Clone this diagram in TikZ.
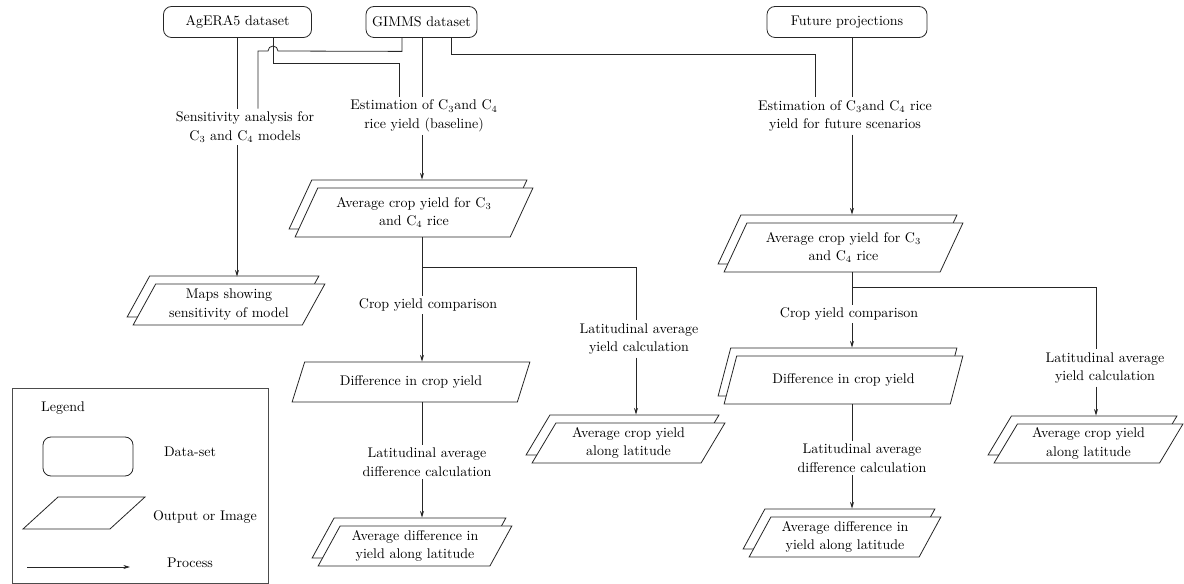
\documentclass[tikz,border=0pt]{standalone}
\usetikzlibrary{shapes.geometric,shadows,arrows.meta,calc}
\begin{document}
\begin{tikzpicture}[x=0.75pt,y=-0.75pt,
  every node/.style={font=\fontsize{10.5}{14}\selectfont},
  line/.style={draw=black!85, line width=0.6pt},
  arr/.style={line, -{Stealth[length=5pt,width=3pt]}},
  dataset/.style={draw=black!85, line width=0.6pt, rounded corners=6pt, align=center, inner sep=0pt, minimum height=23.25pt},
  lbl/.style={align=center, inner sep=2pt},
  para/.style={trapezium, trapezium left angle=61, trapezium right angle=119, trapezium stretches=true, draw=black!85, line width=0.6pt, fill=white, align=center, inner sep=1pt},
  dpara/.style={para, copy shadow={shadow xshift=-4.5pt, shadow yshift=6pt}},
]
\useasboundingbox (0,0) rectangle (1184,584);

% axes
\coordinate (xA1) at (237,0);
\coordinate (xA2) at (273,0);
\coordinate (xG1) at (402,0);
\coordinate (xB) at (422,0);
\coordinate (xG3) at (451,0);
\coordinate (xF) at (852,0);
\coordinate (xS) at (258,0);
\coordinate (xE1) at (399,0);
\coordinate (xE2) at (815,0);
\coordinate (xL) at (636,0);
\coordinate (xR) at (1096,0);
\coordinate (brB) at (422,267);
\coordinate (brF) at (852,287);

% datasets
\node[dataset, minimum width=111pt] (agera) at (237.5,22) {AgERA5 dataset};
\node[dataset, minimum width=83.25pt] (gimms) at (421.5,22) {GIMMS dataset};
\node[dataset, minimum width=120pt] (future) at (847,22) {Future projections};

% process labels
\node[lbl] (sens) at (245,127) {Sensitivity analysis for\\C$_3$ and C$_4$ models};
\node[lbl] (estb) at (424,116) {Estimation of C$_3$and C$_4$\\rice yield (baseline)};
\node[lbl] (estf) at (845,116) {Estimation of C$_3$and C$_4$ rice\\yield for future scenarios};
\node[lbl] (cycb) at (428,305) {Crop yield comparison};
\node[lbl] (latb) at (639,339) {Latitudinal average\\yield calculation};
\node[lbl] (ladb) at (427,462) {Latitudinal average\\difference calculation};
\node[lbl] (cycf) at (849,314) {Crop yield comparison};
\node[lbl] (ladf) at (862,458) {Latitudinal average\\difference calculation};
\node[lbl] (latf) at (1105,368) {Latitudinal average\\yield calculation};

% outputs
\node[dpara, minimum width=178.5pt, minimum height=36.75pt] (avgb) at (414,212.5) {Average crop yield for C$_3$\\and C$_4$ rice};
\node[dpara, minimum width=144pt, minimum height=30.75pt] (maps) at (229,304.5) {Maps showing\\sensitivity of model};
\node[para, minimum width=178.5pt, minimum height=30pt] (diffb) at (411,382) {Difference in crop yield};
\node[dpara, minimum width=145.5pt, minimum height=30pt] (avgdiffb) at (415,546) {Average difference in\\yield along latitude};
\node[dpara, minimum width=144.75pt, minimum height=30pt] (avglatb) at (628.5,443) {Average crop yield\\along latitude};
\node[dpara, minimum width=179.25pt, minimum height=36.75pt] (avgf) at (843.5,247.5) {Average crop yield for C$_3$\\and C$_4$ rice};
\node[dpara, minimum width=179.25pt, minimum height=36pt] (difff) at (843.5,380) {Difference in crop yield};
\node[dpara, minimum width=144pt, minimum height=30pt] (avgdifff) at (845,537) {Average difference in\\yield along latitude};
\node[dpara, minimum width=141.75pt, minimum height=29.25pt] (avglatf) at (1088.5,443.5) {Average crop yield\\along latitude};

% connectors top
\draw[line] (agera.south -| xA1) -- (sens.north -| xA1);
\draw[arr] (sens.south -| xA1) -- ($(maps.north -| xA1)+(0,-7)$);
\draw[line] (agera.south -| xA2) -- ++(0,25.5) -| (estb.north -| xE1);
\draw[line] (gimms.south -| xG1) -- ++(0,13.5) -- (278,51) arc[start angle=0, end angle=-180, radius=5] -| (sens.north -| xS);
\draw[line] (gimms.south -| xB) -- (estb.north -| xB);
\draw[line] (gimms.south -| xG3) -- ++(0,16.5) -| (estf.north -| xE2);
\draw[line] (future.south -| xF) -- (estf.north -| xF);

% baseline column
\draw[arr] (estb.south -| xB) -- ($(avgb.north -| xB)+(0,-8)$);
\draw[line] (avgb.south -| xB) -- (cycb.north -| xB);
\draw[line] (brB) -| (latb.north -| xL);
\draw[arr] (cycb.south -| xB) -- (diffb.north -| xB);
\draw[line] (diffb.south -| xB) -- (ladb.north -| xB);
\draw[arr] (ladb.south -| xB) -- ($(avgdiffb.north -| xB)+(0,-8)$);
\draw[arr] (latb.south -| xL) -- ($(avglatb.north -| xL)+(0,-8)$);

% future column
\draw[arr] (estf.south -| xF) -- ($(avgf.north -| xF)+(0,-8)$);
\draw[line] (avgf.south -| xF) -- (cycf.north -| xF);
\draw[line] (brF) -| (latf.north -| xR);
\draw[arr] (cycf.south -| xF) -- ($(difff.north -| xF)+(0,-8)$);
\draw[line] (difff.south -| xF) -- (ladf.north -| xF);
\draw[arr] (ladf.south -| xF) -- ($(avgdifff.north -| xF)+(0,-8)$);
\draw[arr] (latf.south -| xR) -- ($(avglatf.north -| xR)+(0,-8)$);

% legend
\node[draw=black!70, line width=0.7pt, minimum width=192pt, minimum height=146.25pt, inner sep=0pt] (legend) at (140,485.5) {};
\node (legtitle) at (63,408) {Legend};
\node[dataset, minimum width=67.5pt, minimum height=29.25pt] (legdata) at (88,456.5) {};
\node (legdatat) at (190,452) {Data-set};
\node[para, trapezium left angle=56, trapezium right angle=124, minimum width=91.5pt, minimum height=24pt] (legout) at (84,513) {};
\node (legoutt) at (205,517) {Output or Image};
\coordinate (legA) at (27,567);
\coordinate (legB) at (130,567);
\draw[arr] (legA) -- (legB);
\node (legproc) at (190,563) {Process};
\end{tikzpicture}
\end{document}
